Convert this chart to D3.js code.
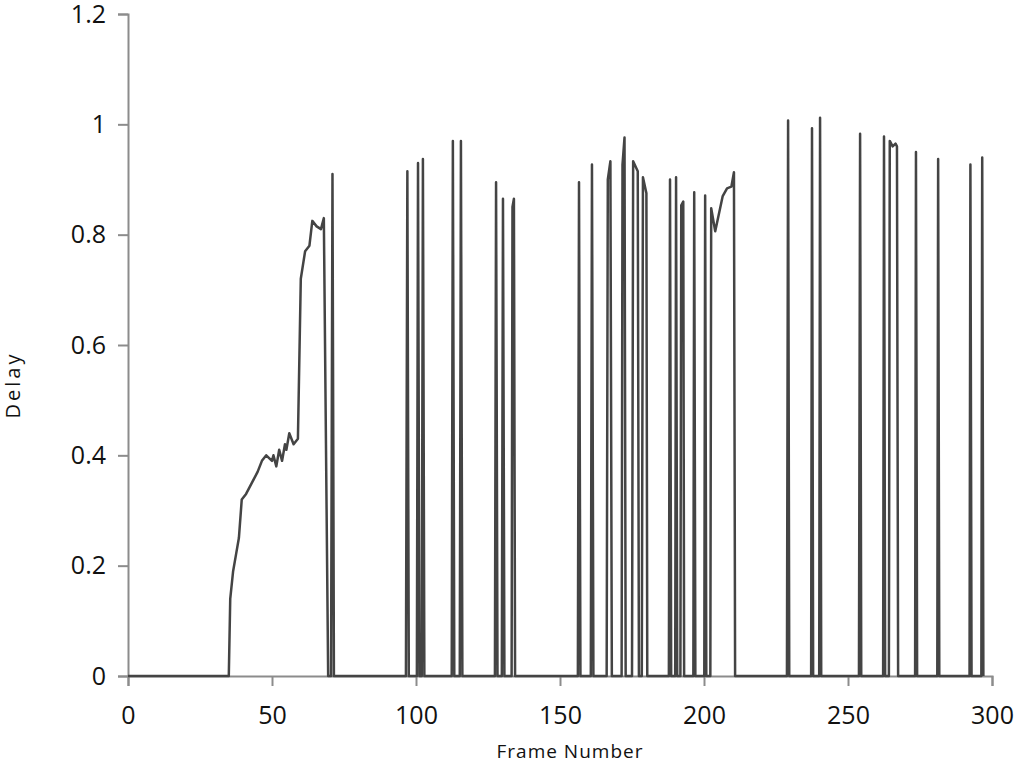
<!DOCTYPE html>
<html><head><meta charset="utf-8">
<script src="https://cdn.jsdelivr.net/npm/d3@7"></script>
<style>body{margin:0;background:#fff}</style>
</head><body>
<script>
// frame / delay pairs (zeros separate the spikes)
const frames = [0,35,35.5,36.5,37.5,38.5,39.5,41,43,45,46.5,48,50,50.5,51.5,52.5,53.5,54.5,55,56,57.5,59,60,61.5,63,64,65.5,67,68,69.5,70.5,71,71.5,
  96.5,97,97.5,100.3,100.7,101.2,102,102.4,102.9,112.4,112.8,113.3,115.2,115.6,116.1,127.4,127.8,128.3,129.8,130.2,130.7,133.2,133.5,134,134.4,
  156.2,156.6,157.1,160.7,161.1,161.6,166.2,166.6,167.5,168,171.4,171.7,172.4,172.8,175,175.4,177,177.4,178.4,178.8,180,180.3,
  187.8,188.2,188.6,190,190.3,190.7,191.8,192.1,192.8,193.1,196.3,196.6,197,200.1,200.4,200.8,202.2,202.5,203.9,206.5,208,209.5,210.4,210.8,
  228.8,229.2,229.6,237.2,237.5,237.9,240,240.3,240.7,253.8,254.2,254.6,262.2,262.5,262.9,264.2,264.5,265.5,266.5,267,267.4,
  273.3,273.6,274,281,281.3,281.7,292.2,292.5,292.9,296.3,296.6,297];
const delays = [0,0,0.14,0.19,0.22,0.25,0.32,0.33,0.35,0.37,0.39,0.40,0.39,0.40,0.38,0.41,0.39,0.42,0.41,0.44,0.42,0.43,0.72,0.77,0.78,0.825,0.815,0.81,0.83,0,0,0.91,0,
  0,0.915,0,0,0.93,0,0,0.937,0,0,0.97,0,0,0.97,0,0,0.895,0,0,0.865,0,0,0.85,0.865,0,
  0,0.895,0,0,0.927,0,0,0.9,0.933,0,0,0.927,0.976,0,0,0.933,0.915,0,0,0.904,0.875,0,
  0,0.9,0,0,0.904,0,0,0.853,0.86,0,0,0.877,0,0,0.871,0,0,0.848,0.806,0.87,0.884,0.887,0.913,0,
  0,1.007,0,0,0.993,0,0,1.012,0,0,0.983,0,0,0.978,0,0,0.97,0.96,0.965,0.96,0,
  0,0.95,0,0,0.937,0,0,0.927,0,0,0.94,0];
const xTicks = [0,50,100,150,200,250,300];
const yTicks = [0,0.2,0.4,0.6,0.8,1,1.2];

const W = 1024, H = 766;
const margin = {top: 14, right: 32, bottom: 90, left: 128};
const font = "'Open Sans', sans-serif";

const svg = d3.select("body").append("svg").attr("width", W).attr("height", H);
const x = d3.scaleLinear().domain([0, 300]).range([margin.left, W - margin.right]);
const y = d3.scaleLinear().domain([0, 1.2]).range([H - margin.bottom, margin.top]);

const xAxis = svg.append("g")
  .attr("transform", `translate(0,${y(0)})`)
  .call(d3.axisBottom(x).tickValues(xTicks).tickSize(10).tickPadding(20).tickFormat(d3.format("d")));
const yAxis = svg.append("g")
  .attr("transform", `translate(${x(0)},0)`)
  .call(d3.axisLeft(y).tickValues(yTicks).tickSize(10).tickPadding(12).tickFormat(d => d === 0 || d === 1 ? d : d3.format(".1f")(d)));
[xAxis, yAxis].forEach(a => {
  a.selectAll("path,line").attr("stroke", "#8c8c8c").attr("stroke-width", 2);
  a.selectAll("text").attr("font-family", font).attr("font-size", 25).attr("fill", "#111");
});

const pts = frames.map((f, i) => [f, delays[i]]);
svg.append("path")
  .datum(pts)
  .attr("fill", "none")
  .attr("stroke", "#444")
  .attr("stroke-width", 2.5)
  .attr("stroke-linejoin", "round")
  .attr("d", d3.line().x(d => x(d[0])).y(d => y(d[1])));

svg.append("text")
  .attr("x", (x(0) + x(300)) / 2 + 10).attr("y", 758)
  .attr("text-anchor", "middle").attr("font-family", font).attr("font-size", 19)
  .attr("letter-spacing", 1).attr("fill", "#111")
  .text("Frame Number");

svg.append("text")
  .attr("transform", `translate(20,${y(0.6) + 40}) rotate(-90)`)
  .attr("text-anchor", "middle").attr("font-family", font).attr("font-size", 20)
  .attr("letter-spacing", 3).attr("fill", "#111")
  .text("Delay");
</script>
</body></html>
